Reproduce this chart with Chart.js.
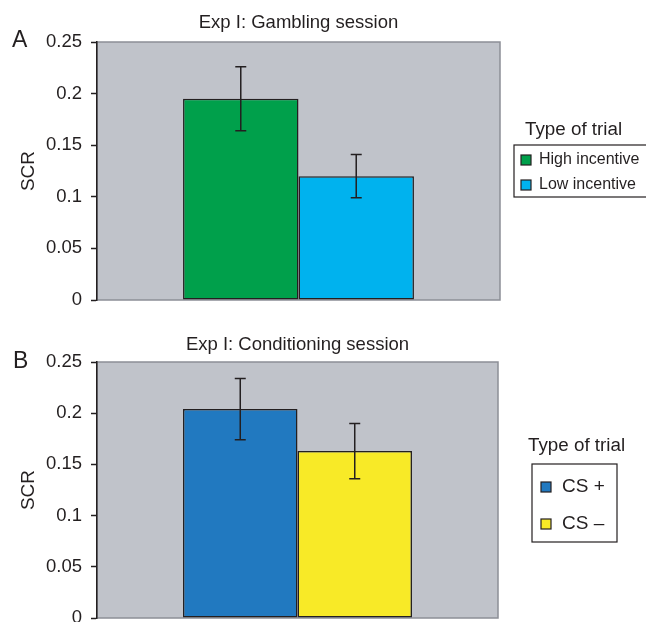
<!DOCTYPE html>
<html>
<head>
<meta charset="utf-8">
<script src="https://cdn.jsdelivr.net/npm/chart.js@4.4.0/dist/chart.umd.min.js"></script>
<style>
  body { margin: 0; background: #fff; overflow: hidden; }
  canvas { position: absolute; left: 0; }
  #chart-a { top: 0; }
  #chart-b { top: 311px; }
</style>
</head>
<body>
<canvas id="chart-a" width="646" height="324"></canvas>
<canvas id="chart-b" width="646" height="335"></canvas>
<script>
const yTickLabels = ['0', '0.05', '0.1', '0.15', '0.2', '0.25'];

const gamblingTrials = ['High incentive', 'Low incentive'];
const gamblingScr = [0.195, 0.12];
const gamblingErr = [0.031, 0.021];
const gamblingColors = ['#00a04b', '#00b2ee'];

const conditioningTrials = ['CS +', 'CS \u2013'];
const conditioningScr = [0.204, 0.163];
const conditioningErr = [0.03, 0.027];
const conditioningColors = ['#2179c0', '#f8ea27'];

const fontFamily = '"Liberation Sans", Arial, Helvetica, sans-serif';
const inkColor = '#231f20';

// plot background, error bars, panel title/letter and the boxed legend
const panelDecor = {
    id: 'panelDecor',
    beforeDraw(chart) {
        const { ctx, chartArea: a } = chart;
        ctx.save();
        ctx.fillStyle = '#c0c3ca';
        ctx.fillRect(a.left, a.top, a.right - a.left, a.bottom - a.top);
        ctx.strokeStyle = '#8c8f96';
        ctx.lineWidth = 1.5;
        ctx.strokeRect(a.left, a.top, a.right - a.left, a.bottom - a.top);
        ctx.restore();
    },
    afterDatasetsDraw(chart) {
        const { ctx } = chart;
        const y = chart.scales.y;
        chart.data.datasets.forEach((ds, i) => {
            const bar = chart.getDatasetMeta(i).data[0];
            const top = y.getPixelForValue(ds.data[0] + ds.errors[0]);
            const bottom = y.getPixelForValue(ds.data[0] - ds.errors[0]);
            ctx.save();
            ctx.strokeStyle = inkColor;
            ctx.lineWidth = 1.5;
            ctx.beginPath();
            ctx.moveTo(bar.x, top);
            ctx.lineTo(bar.x, bottom);
            ctx.moveTo(bar.x - 5.5, top);
            ctx.lineTo(bar.x + 5.5, top);
            ctx.moveTo(bar.x - 5.5, bottom);
            ctx.lineTo(bar.x + 5.5, bottom);
            ctx.stroke();
            ctx.restore();
        });
    },
    afterDraw(chart, args, opts) {
        const { ctx, chartArea: a } = chart;
        ctx.save();
        ctx.fillStyle = inkColor;
        ctx.textBaseline = 'middle';

        ctx.font = '18.5px ' + fontFamily;
        ctx.textAlign = 'center';
        ctx.fillText(opts.title, (a.left + a.right) / 2, opts.titleY);

        ctx.textAlign = 'left';
        ctx.textBaseline = 'alphabetic';
        ctx.font = '23px ' + fontFamily;
        ctx.fillText(opts.letter, opts.letterX, opts.letterY);

        const lg = opts.legend;
        ctx.textBaseline = 'middle';
        ctx.font = '18.8px ' + fontFamily;
        ctx.fillText('Type of trial', lg.titleX, lg.titleY);

        ctx.strokeStyle = inkColor;
        ctx.lineWidth = 1.2;
        ctx.strokeRect(lg.box[0], lg.box[1], lg.box[2], lg.box[3]);

        ctx.font = lg.fontSize + 'px ' + fontFamily;
        chart.data.datasets.forEach((ds, i) => {
            const cy = lg.itemY[i];
            ctx.fillStyle = ds.backgroundColor;
            ctx.fillRect(lg.swatchX, cy - lg.swatch / 2, lg.swatch, lg.swatch);
            ctx.strokeRect(lg.swatchX, cy - lg.swatch / 2, lg.swatch, lg.swatch);
            ctx.fillStyle = inkColor;
            ctx.fillText(ds.label, lg.textX, cy);
        });
        ctx.restore();
    }
};

function buildPanel(canvasId, trials, values, errors, colors, panel) {
    const datasets = trials.map((trial, i) => ({
        label: trial,
        data: [values[i]],
        errors: [errors[i]],
        backgroundColor: colors[i],
        borderColor: inkColor,
        borderWidth: 1.5,
        borderSkipped: false,
        categoryPercentage: panel.groupWidth,
        barPercentage: 1
    }));

    return new Chart(document.getElementById(canvasId), {
        type: 'bar',
        data: { labels: [''], datasets },
        options: {
            responsive: false,
            animation: false,
            layout: { padding: panel.padding },
            plugins: {
                legend: { display: false },
                tooltip: { enabled: false },
                panelDecor: panel
            },
            scales: {
                x: { display: false },
                y: {
                    min: 0,
                    max: 0.25,
                    afterFit: scale => { scale.width = 97; },
                    ticks: {
                        stepSize: 0.05,
                        padding: 9,
                        color: inkColor,
                        font: { family: fontFamily, size: 18.5 },
                        callback: (value, index) => yTickLabels[index]
                    },
                    grid: {
                        drawOnChartArea: false,
                        drawTicks: true,
                        tickLength: 6,
                        tickColor: inkColor,
                        tickWidth: 1.5
                    },
                    border: { display: true, color: inkColor, width: 1.5 },
                    title: {
                        display: true,
                        text: 'SCR',
                        color: inkColor,
                        font: { family: fontFamily, size: 19 },
                        padding: { top: 17, bottom: 0 }
                    }
                }
            }
        },
        plugins: [panelDecor]
    });
}

buildPanel('chart-a', gamblingTrials, gamblingScr, gamblingErr, gamblingColors, {
    title: 'Exp I: Gambling session',
    titleY: 23,
    letter: 'A',
    letterX: 12,
    letterY: 47,
    groupWidth: 0.573,
    padding: { left: 0, top: 42, right: 146, bottom: 24 },
    legend: {
        titleX: 525, titleY: 130,
        box: [514, 145, 150, 52],
        swatchX: 521, swatch: 10,
        itemY: [160, 185],
        textX: 539, fontSize: 16
    }
});

buildPanel('chart-b', conditioningTrials, conditioningScr, conditioningErr, conditioningColors, {
    title: 'Exp I: Conditioning session',
    titleY: 34,
    letter: 'B',
    letterX: 13,
    letterY: 57,
    groupWidth: 0.571,
    padding: { left: 0, top: 51, right: 148, bottom: 28 },
    legend: {
        titleX: 528, titleY: 135,
        box: [532, 153, 85, 78],
        swatchX: 541, swatch: 10,
        itemY: [176, 213],
        textX: 562, fontSize: 19
    }
});
</script>
</body>
</html>
